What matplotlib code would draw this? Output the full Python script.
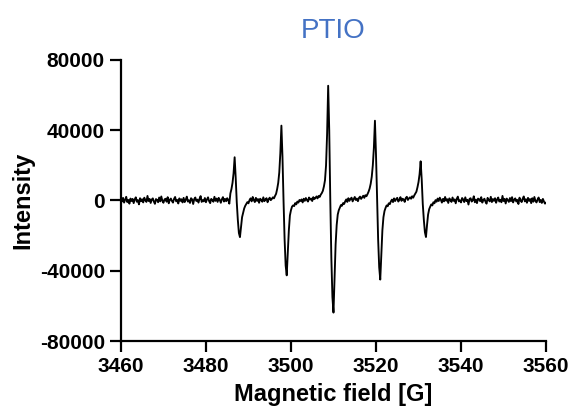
import numpy as np
import matplotlib
matplotlib.use("Agg")
import matplotlib.pyplot as plt

# EPR spectrum of PTIO at 0.25 G steps from 3460 G
field_start = 3460.0
field_step = 0.25
intensity = [
    800, -600, 1500, -1200, 400, 2100, -900, 300, -1800, 1100,
    -300, 900, -1500, 600, 1800, -700, 200, -2200, 1300, -400,
    700, -1100, 1600, 100, -800, 2600, -300, 900, -1400, 500,
    1200, -600, -1900, 800, 300, -1000, 1700, -500, 2300, -200,
    -1300, 600, 1000, -700, 1900, -1600, 400, 1100, -300, -1200,
    900, 2000, -500, 300, -1700, 1200, -200, 700, -1100, 1500,
    -900, 400, 2200, -600, 100, -1400, 1300, 600, -2000, 800,
    1700, -300, 500, -1200, 1000, 2500, -800, 200, -500, 1400,
    -1000, 600, 1800, -400, -1500, 900, 300, -700, 2100, -200,
    1100, -800, 1500, 400, -1300, 700, 1900, -600, 900, -400,
    1300, 300, -1800, 4000, 6500, 10000, 15500, 24600, 13000, -1000,
    -11000, -18500, -20850, -15000, -9500, -7000, -4500, -3000, -2000, -900,
    -1600, 200, 1200, -500, 2000, 300, -900, 1500, -200, 800,
    -1300, 1000, 400, -700, 1800, -400, 600, 1300, -1000, 700,
    1600, 200, 900, 1800, 1200, 2600, 3800, 6500, 10000, 16000,
    27000, 42600, 25000, 0, -22000, -37000, -42600, -30000, -17000, -8500,
    -5500, -3500, -2800, -3200, -1500, -2200, -600, -1200, 300, -300,
    600, -1100, 1000, -200, 1400, 300, -600, 1700, 500, 1100,
    -300, 1900, 800, 1400, 2300, 1200, 2600, 2000, 3300, 4200,
    5500, 8000, 11500, 20000, 38000, 65300, 40000, 0, -33000, -55000,
    -63800, -45000, -25000, -14000, -8000, -5500, -4000, -2600, -3000, -1500,
    -2000, -500, 600, -800, 1300, -200, 900, 1600, -500, 700,
    2000, 300, 1100, -400, 1500, 2200, 900, 1800, 2700, 1500,
    3000, 2400, 3600, 5000, 6800, 9500, 13500, 20000, 30000, 45400,
    26000, 2000, -22000, -38000, -45000, -31000, -17000, -9500, -6000, -4200,
    -2800, -3300, -1600, -2100, -500, 500, -900, 1200, -300, 800,
    1500, -600, 400, 1900, -200, 1000, 600, -800, 1400, 2100,
    300, 1200, 1800, 1000, 2400, 1600, 2900, 4000, 5000, 7500,
    10500, 15000, 22300, 12000, -2000, -11000, -18000, -20800, -14000, -8000,
    -5000, -3500, -2200, -2800, -1000, -1600, 200, -700, 1100, -300,
    1600, 400, -1200, 900, -500, 2000, -100, 700, -1400, 1200,
    300, -800, 1700, -200, 600, -1600, 1000, 2200, -500, 100,
    -1100, 1400, 600, -900, 1800, -300, 400, -2300, 900, 1300,
    -600, 200, 2400, -1000, 500, -1500, 1100, 700, -400, 1900,
    -1200, 300, 1000, -700, -1800, 1500, 200, -500, 2100, -900,
    800, -200, 1300, -1300, 600, 1700, -600, 400, -1000, 2600,
    -300, 900, -1700, 1100, 200, -800, 1400, -400, 1900, -1100,
    500, 1200, -600, 300, -2000, 1600, 100, -900, 1000, 2300,
    -500, 700, -1300, 1500, -200, 800, -1500, 1300, -700, 2000,
    -300, -1100, 600, 1700, -900, 300, -1400, 900, -600, -1800,
    -1200,
]

x_ticks = [3460, 3480, 3500, 3520, 3540, 3560]
y_ticks = [-80000, -40000, 0, 40000, 80000]

field = field_start + field_step * np.arange(len(intensity))

plt.rcParams['font.family'] = ['Liberation Sans', 'DejaVu Sans']

fig = plt.figure(figsize=(5.73, 4.19), dpi=100)
ax = fig.add_axes([0.211, 0.186, 0.742, 0.671])

ax.plot(field, intensity, color='black', linewidth=1.35)

ax.set_xlim(3460, 3560)
ax.set_ylim(-80000, 80000)
ax.set_xticks(x_ticks)
ax.set_yticks(y_ticks)
ax.set_xticklabels([str(t) for t in x_ticks], fontweight='bold', fontsize=15)
ax.set_yticklabels([str(t) for t in y_ticks], fontweight='bold', fontsize=15)

for side in ['top', 'right']:
    ax.spines[side].set_visible(False)
for side in ['left', 'bottom']:
    ax.spines[side].set_linewidth(1.6)
ax.tick_params(axis='both', length=8, width=1.6, pad=3.5)

ax.set_xlabel("Magnetic field [G]", fontsize=17, fontweight='bold', labelpad=5)
ax.set_ylabel("Intensity", fontsize=17, fontweight='bold', labelpad=4)
ax.set_title("PTIO", fontsize=20, color='#4472C4', pad=16)

fig.savefig("out.png", dpi=100)
